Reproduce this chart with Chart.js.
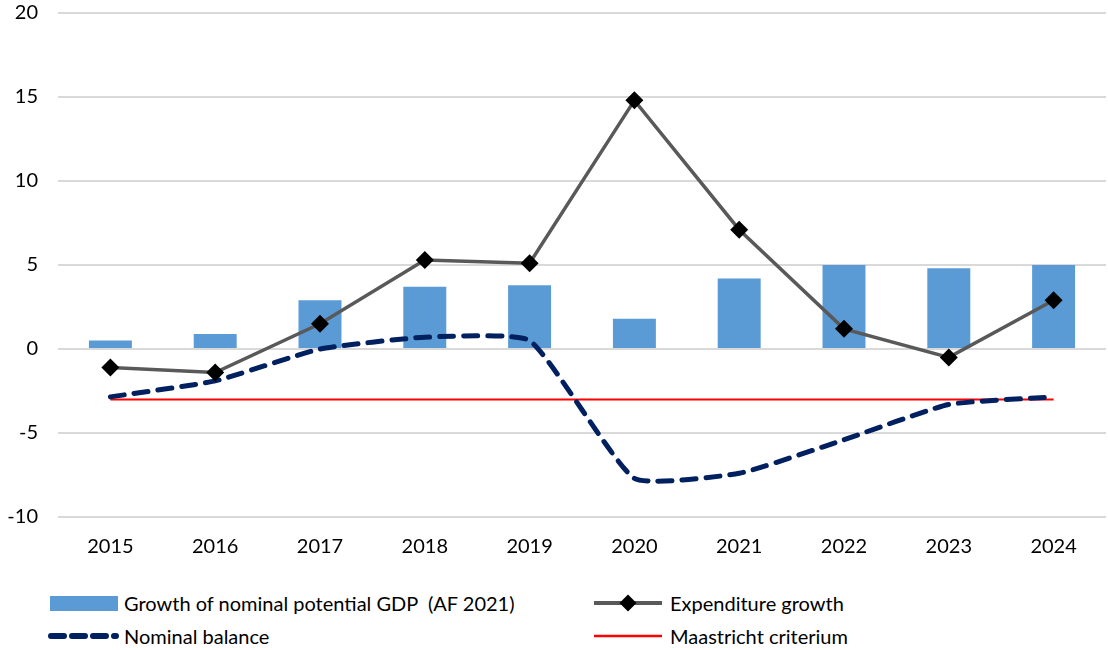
<!DOCTYPE html>
<html>
<head>
<meta charset="utf-8">
<script src="https://cdn.jsdelivr.net/npm/chart.js@4/dist/chart.umd.min.js"></script>
<style>
  html, body { margin: 0; padding: 0; background: #fff; }
  body { width: 1108px; height: 650px; position: relative; overflow: hidden; font-family: Lato, "Open Sans", sans-serif; }
  #wrap { position: absolute; left: 0; top: -19px; width: 1115px; height: 584px; }
  .leg { position: absolute; font-size: 20px; color: #000; white-space: pre; line-height: 24px; }
  .sw { position: absolute; }
</style>
</head>
<body>
<div id="wrap"><canvas id="chart"></canvas></div>

<!-- legend -->
<div class="sw" style="left:50px; top:596px; width:68px; height:15px; background:#5b9bd5;"></div>
<div class="leg" style="left:124px; top:591px;">Growth of nominal potential GDP  (AF 2021)</div>
<svg class="sw" style="left:594px; top:593px;" width="70" height="20">
  <line x1="0" y1="10" x2="68" y2="10" stroke="#595959" stroke-width="4"/>
  <rect x="28" y="4" width="12" height="12" fill="#000" transform="rotate(45 34 10)"/>
</svg>
<div class="leg" style="left:670px; top:591px;">Expenditure growth</div>
<svg class="sw" style="left:48px; top:626px;" width="72" height="20">
  <line x1="3" y1="10" x2="68" y2="10" stroke="#002060" stroke-width="6" stroke-dasharray="13 8" stroke-linecap="round"/>
</svg>
<div class="leg" style="left:124px; top:624px;">Nominal balance</div>
<svg class="sw" style="left:594px; top:626px;" width="70" height="20">
  <line x1="0" y1="10" x2="68" y2="10" stroke="#ff0000" stroke-width="2.5"/>
</svg>
<div class="leg" style="left:670px; top:624px;">Maastricht criterium</div>

<script>
// ---------- data ----------
const years = ["2015", "2016", "2017", "2018", "2019", "2020", "2021", "2022", "2023", "2024"];
const potentialGdpGrowth = [0.5, 0.9, 2.9, 3.7, 3.8, 1.8, 4.2, 5.0, 4.8, 5.0];
const expenditureGrowth = [-1.1, -1.4, 1.5, 5.3, 5.1, 14.8, 7.1, 1.2, -0.5, 2.9];
const nominalBalance = [-2.85, -1.9, 0.0, 0.7, 0.5, -7.7, -7.4, -5.4, -3.3, -2.85];
const maastricht = [-3, -3, -3, -3, -3, -3, -3, -3, -3, -3];
const yTicks = [-10, -5, 0, 5, 10, 15, 20];

// ---------- chart ----------
const ctx = document.getElementById("chart").getContext("2d");
new Chart(ctx, {
  data: {
    labels: years,
    datasets: [
      {
        type: "line",
        label: "Expenditure growth",
        data: expenditureGrowth,
        borderColor: "#595959",
        borderWidth: 3.5,
        pointStyle: "rectRot",
        pointRadius: 9,
        pointBackgroundColor: "#000",
        pointBorderColor: "#000",
        pointBorderWidth: 0,
        tension: 0,
        order: 0
      },
      {
        type: "line",
        label: "Nominal balance",
        data: nominalBalance,
        borderColor: "#002060",
        borderWidth: 5,
        borderDash: [14, 10],
        borderCapStyle: "round",
        pointRadius: 0,
        tension: 0.15,
        order: 1
      },
      {
        type: "line",
        label: "Maastricht criterium",
        data: maastricht,
        borderColor: "#ff0000",
        borderWidth: 2,
        pointRadius: 0,
        order: 2
      },
      {
        type: "bar",
        label: "Growth of nominal potential GDP  (AF 2021)",
        data: potentialGdpGrowth,
        backgroundColor: "#5b9bd5",
        barPercentage: 0.41,
        categoryPercentage: 1,
        order: 3
      }
    ]
  },
  options: {
    responsive: true,
    maintainAspectRatio: false,
    animation: false,
    layout: { padding: { top: 12, right: 0, left: 0, bottom: 0 } },
    plugins: {
      legend: { display: false },
      tooltip: { enabled: false }
    },
    scales: {
      x: {
        grid: { display: false, drawTicks: false },
        border: { display: false },
        ticks: { color: "#000", font: { family: "Lato", size: 20 }, padding: 18 },
        afterFit: (scale) => { scale.height = 48; }
      },
      y: {
        min: -10,
        max: 20,
        afterBuildTicks: (scale) => { scale.ticks = yTicks.map((v) => ({ value: v })); },
        grid: { color: "#d9d9d9", lineWidth: 2, drawTicks: false },
        border: { display: false },
        ticks: { color: "#000", font: { family: "Lato", size: 20 }, padding: 20 },
        afterFit: (scale) => { scale.width = 58; }
      }
    }
  }
});
</script>
</body>
</html>
